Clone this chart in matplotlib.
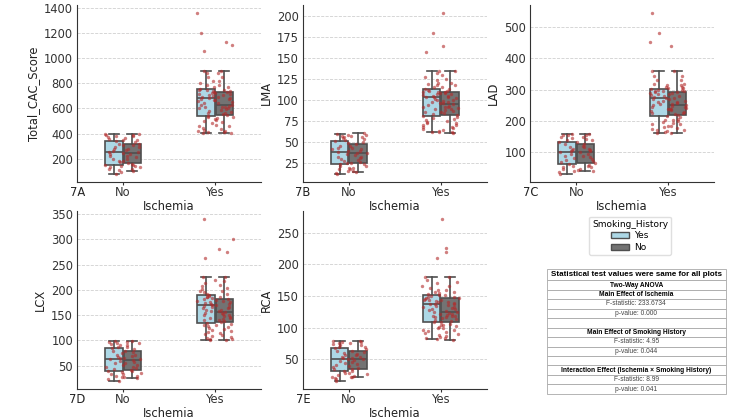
import matplotlib
matplotlib.use("Agg")
import matplotlib.pyplot as plt
import numpy as np
from matplotlib.patches import Patch
from matplotlib.ticker import MultipleLocator
from matplotlib.transforms import offset_copy

# kategorie
ischemia = ["No", "Yes"]
smoking = ["Yes", "No"]
kolumny = ["Total_CAC_Score", "LMA", "LAD", "LCX", "RCA"]
etykiety = ["7A", "7B", "7C", "7D", "7E"]
kroki_y = [200, 25, 100, 50, 50]

# wartosci: (ischemia, smoking)
cac_no_yes = [79, 95, 110, 120, 132, 145, 153, 170, 185, 200, 220, 240, 253, 262, 275,
              290, 305, 320, 337, 350, 360, 372, 380, 388, 395]
cac_no_no = [105, 118, 130, 140, 150, 160, 166, 180, 195, 210, 222, 235, 245, 255, 265,
             275, 290, 305, 319, 335, 350, 365, 378, 390, 400]
cac_yes_yes = [408, 412, 420, 430, 445, 460, 480, 500, 515, 530, 540,
               560, 580, 600, 615, 630, 645, 660, 670, 678, 685,
               690, 700, 708, 715, 722, 730, 738, 744, 750, 754,
               770, 790, 800, 820, 850, 880, 899, 1054, 1202, 1360]
cac_yes_no = [405, 410, 420, 440, 460, 470, 490, 505, 520, 535, 548,
              555, 565, 575, 585, 595, 600, 608, 615, 620, 627,
              640, 655, 665, 675, 685, 695, 705, 715, 725, 733,
              740, 750, 770, 790, 820, 850, 880, 901, 1102, 1133]

lma_no_yes = [11.5, 13, 15, 17, 19, 21, 23, 25, 27, 29, 32, 35, 37.3, 39, 41, 43, 45, 48,
              50.6, 52, 54, 55, 57, 58, 59]
lma_no_no = [14, 15, 17, 19, 21, 23, 24.2, 26, 28, 30, 32, 34, 36, 37, 39, 41, 43, 45,
             47.3, 50, 53, 55, 57, 58, 60]
lma_yes_yes = [61.2, 62, 63, 65, 68, 70, 72, 74, 76, 78, 80.8,
               83, 86, 89, 91, 94, 96, 98, 100, 101, 102.9,
               104, 105, 106, 107, 108, 109, 110, 111, 112, 112.7,
               115, 118, 119, 120, 124, 128, 132, 135, 157.5, 179.6]
lma_yes_no = [60.4, 62, 64, 66, 68, 70, 72, 75, 77, 79, 82,
              84, 86, 87, 88, 89, 90, 91, 92, 93, 94.6,
              96, 97, 99, 100, 102, 104, 105, 107, 108, 109.6,
              111, 113, 116, 118, 120, 125, 130, 135, 164.6, 204]

lad_no_yes = [31.6, 38, 42, 47, 52, 57, 63, 70, 76, 82, 88, 95, 101, 104, 108, 112, 118,
              126, 134.7, 140, 145, 150, 154, 157, 159]
lad_no_no = [42, 45, 48, 52, 56, 61, 66, 72, 78, 84, 90, 95, 100, 104, 108, 112, 116,
             121, 127, 132, 138, 144, 150, 155, 159]
lad_yes_yes = [163, 165, 168, 172, 176, 180, 185, 190, 198, 205, 216,
               225, 232, 240, 245, 250, 255, 260, 265, 270, 273.7,
               276, 280, 283, 286, 289, 292, 295, 297, 299, 301,
               305, 310, 314, 318, 330, 345, 359, 452, 480, 545]
lad_yes_no = [162, 170, 178, 185, 190, 195, 200, 205, 208, 212, 219,
              222, 226, 230, 234, 237, 240, 243, 246, 248, 250.5,
              253, 257, 261, 265, 270, 275, 280, 285, 289, 292.6,
              296, 300, 305, 310, 315, 320, 330, 345, 360, 440]

lcx_no_yes = [20, 23, 27, 30, 33, 37, 40, 44, 48, 52, 56, 60, 63, 65, 68, 71, 75, 79, 84,
              87, 90, 93, 95, 97, 98.6]
lcx_no_no = [26, 28, 30, 33, 36, 39, 42, 45, 48, 52, 55, 58, 61, 63, 66, 69, 72, 76, 79.5,
             83, 87, 91, 94, 97, 99]
lcx_yes_yes = [101, 103, 105, 108, 112, 116, 120, 124, 128, 131, 135,
               140, 145, 150, 154, 158, 161, 164, 166, 168, 171,
               173, 175, 177, 179, 181, 183, 185, 186, 187, 189,
               192, 195, 198, 202, 208, 214, 220, 225, 262.7, 340]
lcx_yes_no = [100.5, 103, 107, 111, 115, 119, 123, 127, 130, 133, 136.7,
              139, 141, 143, 145, 147, 149, 151, 152, 154, 156,
              158, 161, 164, 167, 170, 173, 176, 178, 180, 182,
              186, 192, 198, 204, 210, 218, 225, 274.5, 282, 300.8]

rca_no_yes = [15.8, 18, 20, 22, 25, 28, 31.6, 35, 38, 41, 44, 47, 50, 52, 54, 57, 60, 63,
              67, 70, 72, 74, 76, 77, 78]
rca_no_no = [21, 22, 24, 26, 28, 31, 33.7, 36, 39, 42, 45, 48, 50.5, 52, 54, 56, 58, 61,
             63.7, 66, 69, 72, 75, 77, 79.5]
rca_yes_yes = [81.6, 83, 85, 88, 91, 94, 96, 99, 101, 104, 108.4,
               112, 116, 119, 122, 125, 128, 130, 132, 134, 136.8,
               138, 140, 142, 143, 144, 145, 147, 148, 150, 151,
               153, 155, 157, 159, 162, 166, 170, 175, 180.5, 210.5]
rca_yes_no = [81, 84, 87, 90, 93, 96, 99, 102, 104, 106, 109.5,
              111, 113, 115, 116, 118, 119, 120, 122, 123, 125.3,
              127, 129, 131, 133, 135, 137, 139, 141, 143, 146.3,
              149, 152, 156, 160, 166, 172, 180.5, 220, 226, 271.6]

dane = {
    "Total_CAC_Score": [[cac_no_yes, cac_no_no], [cac_yes_yes, cac_yes_no]],
    "LMA": [[lma_no_yes, lma_no_no], [lma_yes_yes, lma_yes_no]],
    "LAD": [[lad_no_yes, lad_no_no], [lad_yes_yes, lad_yes_no]],
    "LCX": [[lcx_no_yes, lcx_no_no], [lcx_yes_yes, lcx_yes_no]],
    "RCA": [[rca_no_yes, rca_no_no], [rca_yes_yes, rca_yes_no]],
}

# tabela ze statystykami
tabela = [
    "Statistical test values were same for all plots",
    "Two-Way ANOVA",
    "Main Effect of Ischemia",
    "F-statistic: 233.6734",
    "p-value: 0.000",
    "",
    "Main Effect of Smoking History",
    "F-statistic: 4.95",
    "p-value: 0.044",
    "",
    "Interaction Effect (Ischemia \u00d7 Smoking History)",
    "F-statistic: 8.99",
    "p-value: 0.041",
]
pogrubione = [1, 2, 6, 10]

kolory = ["#add8e6", "#737373"]
krawedz = "#4f4f4f"
kropki = "#b22a2a"

plt.rcParams["font.family"] = "DejaVu Sans"
plt.rcParams["font.size"] = 8.3
plt.rcParams["axes.edgecolor"] = "#333333"
plt.rcParams["xtick.color"] = "#333333"
plt.rcParams["ytick.color"] = "#333333"
plt.rcParams["axes.labelcolor"] = "#222222"

fig = plt.figure(figsize=(7.5, 4.19), dpi=100)

# pozycje osi [lewo, dol, szerokosc, wysokosc]
pozycje = [
    [0.103, 0.566, 0.245, 0.422],
    [0.404, 0.566, 0.245, 0.422],
    [0.707, 0.566, 0.245, 0.422],
    [0.103, 0.072, 0.245, 0.424],
    [0.404, 0.072, 0.245, 0.424],
]

rng = np.random.default_rng(7)

for k, kol in enumerate(kolumny):
    ax = fig.add_axes(pozycje[k])
    ax.set_axisbelow(True)
    ax.yaxis.grid(True, linestyle="--", color="#d0d0d0", linewidth=0.6)
    for i, isch in enumerate(ischemia):
        for j, sm in enumerate(smoking):
            wart = dane[kol][i][j]
            poz = i + (-0.1 if j == 0 else 0.1)
            ax.boxplot(wart, positions=[poz], widths=0.19, whis=1.0,
                       showfliers=False, patch_artist=True, manage_ticks=False,
                       boxprops=dict(facecolor=kolory[j], edgecolor=krawedz, linewidth=1.2),
                       medianprops=dict(color=krawedz, linewidth=1.2),
                       whiskerprops=dict(color=krawedz, linewidth=1.2),
                       capprops=dict(color=krawedz, linewidth=1.2),
                       capwidths=0.11)
            # rozrzut punktow w poziomie
            xs = poz + rng.uniform(-0.1, 0.1, len(wart))
            ax.scatter(xs, wart, s=6, color=kropki, alpha=0.6, linewidths=0, zorder=3)
    ax.set_xlim(-0.5, 1.5)
    ax.set_xticks([0, 1])
    ax.set_xticklabels(ischemia)
    ax.yaxis.set_major_locator(MultipleLocator(kroki_y[k]))
    ax.set_xlabel("Ischemia", labelpad=1)
    ax.set_ylabel(kol, labelpad=3)
    ax.spines["top"].set_visible(False)
    ax.spines["right"].set_visible(False)
    ax.tick_params(axis="y", length=0, pad=3)
    ax.tick_params(axis="x", length=2, pad=1)
    tr = offset_copy(ax.transAxes, fig=fig, x=0, y=-3, units="points")
    ax.text(0, 0, etykiety[k], transform=tr, ha="center", va="top", fontsize=8.3,
            color="#222222")

# legenda
uchwyty = [Patch(facecolor=kolory[0], edgecolor=krawedz, label="Yes"),
           Patch(facecolor=kolory[1], edgecolor=krawedz, label="No")]
leg = fig.legend(handles=uchwyty, title="Smoking_History", loc="upper center",
                 bbox_to_anchor=(0.84, 0.494), fontsize=6.5, title_fontsize=6.5,
                 frameon=True, handlelength=2.0, handleheight=0.7,
                 labelspacing=0.3, borderpad=0.35, handletextpad=0.6)
leg.get_frame().set_edgecolor("#d8d8d8")

# tabela
axt = fig.add_axes([0.729, 0.06, 0.239, 0.298])
axt.axis("off")
tab = axt.table(cellText=[[t] for t in tabela], cellLoc="center", bbox=[0, 0, 1, 1])
tab.auto_set_font_size(False)
n = len(tabela)
for r in range(n):
    c = tab[r, 0]
    c.set_edgecolor("#a8a8a8")
    c.set_linewidth(0.6)
    c.set_height(1.2 / (n + 0.2) if r == 0 else 1.0 / (n + 0.2))
    txt = c.get_text()
    txt.set_fontfamily("Liberation Sans")
    if r == 0:
        txt.set_fontsize(5.8)
        txt.set_fontweight("bold")
    elif r in pogrubione:
        txt.set_fontsize(4.8)
        txt.set_fontweight("bold")
    else:
        txt.set_fontsize(4.8)
        txt.set_color("#444444")

fig.savefig("out.png", dpi=100)
